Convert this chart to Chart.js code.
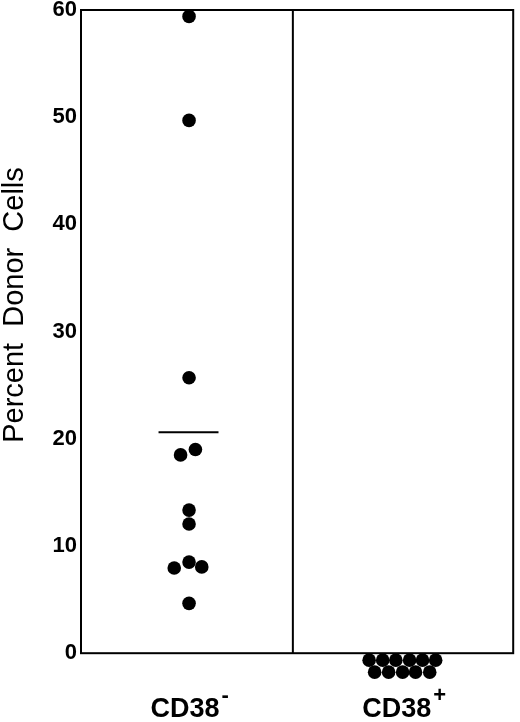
<!DOCTYPE html>
<html>
<head>
<meta charset="utf-8">
<script src="https://cdn.jsdelivr.net/npm/chart.js@4.4.1/dist/chart.umd.min.js"></script>
<style>
  html, body { margin: 0; padding: 0; background: #fff; }
  #wrap { width: 520px; height: 722px; position: relative; }
</style>
</head>
<body>
<div id="wrap"><canvas id="donorChart"></canvas></div>
<script>
// Grupos y datos
const groupNames = ['CD38', 'CD38'];
const groupSigns = ['-', '+'];
const groupCenters = [0.5, 1.5];
const yTicks = [0, 10, 20, 30, 40, 50, 60];
const axisTitle = 'Percent  Donor  Cells';

// CD38- : porcentaje de células donantes (x = posición dentro del grupo)
const negValues = [59.4, 49.7, 25.7, 18.5, 19.0, 13.35, 12.05, 7.95, 8.5, 8.05, 4.65];
const negX = [0.51, 0.51, 0.51, 0.47, 0.54, 0.51, 0.51, 0.44, 0.51, 0.57, 0.51];

// CD38+ : todos en cero, apilados bajo el eje
const posValues = [-0.65, -0.65, -0.65, -0.65, -0.65, -0.65, -1.77, -1.77, -1.77, -1.77, -1.77];
const posX = [1.36, 1.424, 1.486, 1.551, 1.612, 1.674, 1.386, 1.452, 1.518, 1.579, 1.646];

// Media del grupo CD38-
const negMean = 20.6;
const meanSpan = [0.366, 0.649];

const toPoints = (xs, ys) => xs.map((x, i) => ({ x: x, y: ys[i] }));

// Marco, divisor y textos de los ejes
const framePlugin = {
    id: 'frame',
    afterDraw(chart) {
        const { ctx, chartArea: a, scales } = chart;
        const xs = scales.x;
        const ys = scales.y;
        const bottom = ys.getPixelForValue(0);
        ctx.save();
        ctx.strokeStyle = '#000';
        ctx.lineWidth = 2;
        ctx.strokeRect(a.left, a.top, a.right - a.left, bottom - a.top);
        const mid = xs.getPixelForValue(1);
        ctx.beginPath();
        ctx.moveTo(mid, a.top);
        ctx.lineTo(mid, bottom);
        ctx.stroke();

        // etiquetas de grupo con superíndice
        ctx.fillStyle = '#000';
        ctx.textBaseline = 'alphabetic';
        groupNames.forEach((name, i) => {
            const cx = xs.getPixelForValue(groupCenters[i]) - 2;
            ctx.font = 'bold 27px "Liberation Sans", Arial, sans-serif';
            ctx.textAlign = 'center';
            ctx.fillText(name, cx, 717);
            const w = ctx.measureText(name).width;
            ctx.font = 'bold 22px "Liberation Sans", Arial, sans-serif';
            ctx.textAlign = 'left';
            ctx.fillText(groupSigns[i], cx + w / 2 + 2, 702);
        });

        // título del eje y
        ctx.font = '29px "Liberation Sans", Arial, sans-serif';
        ctx.textAlign = 'center';
        ctx.textBaseline = 'middle';
        ctx.translate(15, 305);
        ctx.rotate(-Math.PI / 2);
        ctx.fillText(axisTitle, 0, 0);
        ctx.restore();
    }
};

new Chart(document.getElementById('donorChart'), {
    type: 'scatter',
    data: {
        datasets: [
            {
                label: 'CD38-',
                data: toPoints(negX, negValues),
                backgroundColor: '#000',
                borderWidth: 0,
                pointRadius: 6.8,
                clip: false
            },
            {
                label: 'CD38+',
                data: toPoints(posX, posValues),
                backgroundColor: '#000',
                borderWidth: 0,
                pointRadius: 6.8,
                clip: false
            },
            {
                type: 'line',
                label: 'Media',
                data: toPoints(meanSpan, [negMean, negMean]),
                borderColor: '#000',
                borderWidth: 2,
                pointRadius: 0,
                showLine: true
            }
        ]
    },
    options: {
        responsive: true,
        maintainAspectRatio: false,
        animation: false,
        layout: { padding: { top: 10, right: 6, left: 0, bottom: 0 } },
        plugins: {
            legend: { display: false },
            tooltip: { enabled: false }
        },
        scales: {
            x: {
                type: 'linear',
                min: 0,
                max: 2.04,
                grid: { display: false },
                border: { display: false },
                ticks: { display: false },
                afterFit(scale) {
                    scale.height = 42;
                    scale.paddingLeft = 0;
                    scale.paddingRight = 0;
                }
            },
            y: {
                min: -2.5,
                max: 60,
                afterBuildTicks(scale) { scale.ticks = yTicks.map(v => ({ value: v })); },
                grid: { display: false, drawTicks: false },
                border: { display: false },
                ticks: {
                    color: '#000',
                    padding: 4,
                    font: { family: '"Liberation Sans", Arial, sans-serif', size: 22, weight: 'bold', lineHeight: 1 }
                },
                afterFit(scale) {
                    scale.width = 81;
                    scale.paddingTop = 0;
                    scale.paddingBottom = 0;
                }
            }
        }
    },
    plugins: [framePlugin]
});
</script>
</body>
</html>
